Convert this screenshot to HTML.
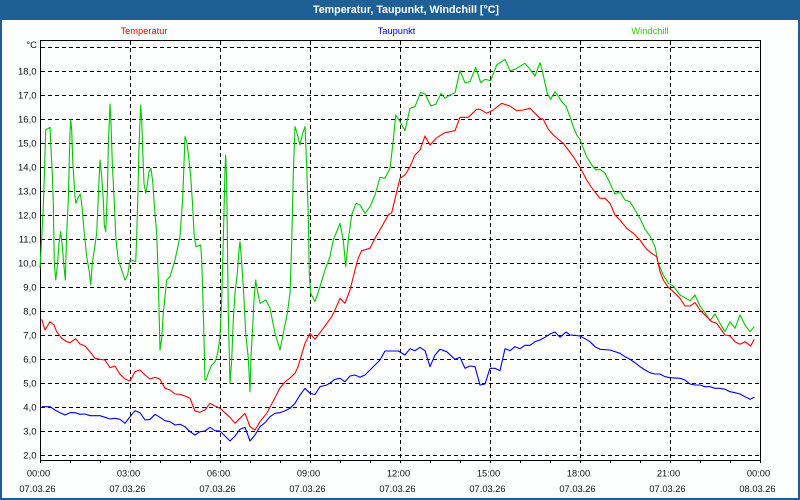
<!DOCTYPE html>
<html><head><meta charset="utf-8"><style>
html,body{margin:0;padding:0;background:#fff;}
svg{display:block;}
text{font-family:"Liberation Sans",Arial,sans-serif;}
</style></head><body>
<svg width="800" height="500" viewBox="0 0 800 500" xmlns="http://www.w3.org/2000/svg">
<rect x="0" y="0" width="800" height="500" fill="#1e5f96"/>
<rect x="2" y="20" width="796" height="478" fill="#fdfefe"/>
<text x="406" y="13" fill="#ffffff" font-size="10.6" font-weight="bold" text-anchor="middle" textLength="186" lengthAdjust="spacingAndGlyphs">Temperatur, Taupunkt, Windchill [°C]</text>
<text x="144" y="34" fill="#ff0000" font-size="9.3" text-anchor="middle">Temperatur</text>
<text x="396.5" y="34" fill="#0000ff" font-size="9.3" text-anchor="middle">Taupunkt</text>
<text x="650" y="34" fill="#33cc00" font-size="9.3" text-anchor="middle">Windchill</text>
<g stroke="#000" stroke-width="1" stroke-dasharray="4,3" shape-rendering="crispEdges">
<line x1="41" y1="47.5" x2="760" y2="47.5"/>
<line x1="41" y1="71.5" x2="760" y2="71.5"/>
<line x1="41" y1="95.5" x2="760" y2="95.5"/>
<line x1="41" y1="119.5" x2="760" y2="119.5"/>
<line x1="41" y1="143.5" x2="760" y2="143.5"/>
<line x1="41" y1="167.5" x2="760" y2="167.5"/>
<line x1="41" y1="191.5" x2="760" y2="191.5"/>
<line x1="41" y1="215.5" x2="760" y2="215.5"/>
<line x1="41" y1="239.5" x2="760" y2="239.5"/>
<line x1="41" y1="263.5" x2="760" y2="263.5"/>
<line x1="41" y1="287.5" x2="760" y2="287.5"/>
<line x1="41" y1="311.5" x2="760" y2="311.5"/>
<line x1="41" y1="335.5" x2="760" y2="335.5"/>
<line x1="41" y1="359.5" x2="760" y2="359.5"/>
<line x1="41" y1="383.5" x2="760" y2="383.5"/>
<line x1="41" y1="407.5" x2="760" y2="407.5"/>
<line x1="41" y1="431.5" x2="760" y2="431.5"/>
<line x1="41" y1="455.5" x2="760" y2="455.5"/>
<line x1="130.5" y1="41" x2="130.5" y2="460"/>
<line x1="220.5" y1="41" x2="220.5" y2="460"/>
<line x1="310.5" y1="41" x2="310.5" y2="460"/>
<line x1="400.5" y1="41" x2="400.5" y2="460"/>
<line x1="490.5" y1="41" x2="490.5" y2="460"/>
<line x1="580.5" y1="41" x2="580.5" y2="460"/>
<line x1="670.5" y1="41" x2="670.5" y2="460"/>
</g>
<g stroke="#000" stroke-width="1" fill="none" shape-rendering="crispEdges">
<path d="M40.5 40.5 H760.5 V460.5 H40.5 Z"/>
<path d="M40.5 460 v3 M70.5 460 v3 M100.5 460 v3 M130.5 460 v3 M160.5 460 v3 M190.5 460 v3 M220.5 460 v3 M250.5 460 v3 M280.5 460 v3 M310.5 460 v3 M340.5 460 v3 M370.5 460 v3 M400.5 460 v3 M430.5 460 v3 M460.5 460 v3 M490.5 460 v3 M520.5 460 v3 M550.5 460 v3 M580.5 460 v3 M610.5 460 v3 M640.5 460 v3 M670.5 460 v3 M700.5 460 v3 M730.5 460 v3 M760.5 460 v3"/>
</g>
<g fill="#111" font-size="9.5" text-anchor="end">
<text x="37" y="48">°C</text>
<text x="36.5" y="74.5">18,0</text>
<text x="36.5" y="98.5">17,0</text>
<text x="36.5" y="122.5">16,0</text>
<text x="36.5" y="146.5">15,0</text>
<text x="36.5" y="170.5">14,0</text>
<text x="36.5" y="194.5">13,0</text>
<text x="36.5" y="218.5">12,0</text>
<text x="36.5" y="242.5">11,0</text>
<text x="36.5" y="266.5">10,0</text>
<text x="36.5" y="290.5">9,0</text>
<text x="36.5" y="314.5">8,0</text>
<text x="36.5" y="338.5">7,0</text>
<text x="36.5" y="362.5">6,0</text>
<text x="36.5" y="386.5">5,0</text>
<text x="36.5" y="410.5">4,0</text>
<text x="36.5" y="434.5">3,0</text>
<text x="36.5" y="458.5">2,0</text>
</g>
<g fill="#111" font-size="9.3" text-anchor="middle">
<text x="38.5" y="476.5">00:00</text><text x="37.5" y="492">07.03.26</text>
<text x="128.5" y="476.5">03:00</text><text x="127.5" y="492">07.03.26</text>
<text x="218.5" y="476.5">06:00</text><text x="217.5" y="492">07.03.26</text>
<text x="308.5" y="476.5">09:00</text><text x="307.5" y="492">07.03.26</text>
<text x="398.5" y="476.5">12:00</text><text x="397.5" y="492">07.03.26</text>
<text x="488.5" y="476.5">15:00</text><text x="487.5" y="492">07.03.26</text>
<text x="578.5" y="476.5">18:00</text><text x="577.5" y="492">07.03.26</text>
<text x="668.5" y="476.5">21:00</text><text x="667.5" y="492">07.03.26</text>
<text x="758.5" y="476.5">00:00</text><text x="757.5" y="492">08.03.26</text>
</g>
<g fill="none" stroke-width="1.1" stroke-linejoin="round">
<polyline stroke="#00c800" points="40,268 41.7,238 43.3,206.7 44.3,176.7 45.7,130 50,127.3 50.7,143.3 52.3,173.3 53.3,203.3 54.3,263.3 55.7,280 57.3,266.7 59,243.3 60.7,231.7 62.3,246.7 64,266.7 65.3,280 66.7,233.3 68.3,200 70,133.3 70.7,119.3 71.7,130 72.7,160 75,196.7 76,203.3 77.7,198.3 80.3,194 81.7,203.3 84,230 86.7,256.7 89.3,271.7 90.7,285 92.3,263.3 94.3,250 96.7,233.3 98.3,196.7 100,160 101.7,176.7 103.3,200 104.3,225 105.7,231.7 107.3,193.3 108.3,146.7 110,104 111,123.3 112.3,163.3 114,196.7 116,240 118.3,260 121.7,270 125,280 127.7,275 130,260 131.7,260 135.7,261.7 136.7,236.7 138,190 139,146.7 140.7,105 141.7,120 142.7,150 144,183.3 145.7,193.3 147,186.7 149,171.7 151,168.3 152.7,181.7 154.3,205 156.7,233.3 158.3,280 160,350 161.7,338.3 163.3,313.3 166.7,280 170,276.7 175,260 180,236.7 182.7,198.3 185,136.7 186.7,141.7 188.3,153.3 190.7,176.7 192.7,206.7 194.3,236.7 196,246.7 200.7,245 201.7,260 203.3,311.7 205,380 206,380 208.3,373.3 211.7,365 215,362 217.7,353.3 220,336.7 221.7,300 223.3,240 225,170 225.7,155 226.7,183.3 228.3,313.3 230,383.3 231.7,360 233.3,320 235,293.3 237.3,273.3 239,250 240,241.7 241,253.3 243.3,286.7 245.7,333.3 248.3,358.3 250,391.7 251,356.7 252.7,326.7 254,300 255.7,280 256.7,286.7 260,303.3 266,300 270,308.3 275,333.3 280,350 283.3,333.3 287.3,313.3 290,293.3 291.7,243.3 293.3,173.3 295,126.7 296.7,131.7 300,145 302.7,133.3 305,126.7 306.7,166.7 308.3,216.7 309.3,273.3 310.7,293.3 315,301.7 320,286.7 325,270 330,256.7 333.3,240 340,223.3 343.3,240 345.7,266.7 348.3,240 351.7,215 356,203.3 360,205 365,213.3 370,206.7 375,195 380,177.3 385,178.3 390,168.3 393.3,140 395.7,115 400,121.7 405,130.7 410,108.3 415,106.7 420.7,92.3 425,94 431,106 436,104 441,93.3 445,98.3 450,95 455,92.7 460,70.7 465,82.7 470,81.7 475.7,67.3 480.7,82.7 485,79.3 490.7,80.7 496.7,65 505,59.3 510,70.7 515,69.3 525,63.3 530,69.3 535,76 540,62.7 541.7,68.3 545,83.3 547.3,93.3 550.7,99.3 555,91.7 558.3,96 561.7,101.7 566,106 570,116.7 573.3,126.7 576.7,135 580,139.3 583.3,148.3 586.7,156.7 591.7,165 596,170 600,169.3 605,173.3 610,183.3 615,194 620,191.7 625,200 630,201.7 635,210 640,218.3 645,229.3 650,236 655,246.7 658.3,263.3 663.3,275 668.3,283.3 673.3,286 680,295 690,300.7 695,295 700,306 705,312.7 710,320.7 715,314 720,323.3 725,331.7 730,321.7 735,328.3 740,315 745,325 750,331.7 754.3,326.7"/>
<polyline stroke="#ff0000" points="41.7,319.3 45,330 50,321.7 54,325 56.7,331.7 61.7,338.3 66.7,341.7 70,342.7 75.7,338.7 80,344 85,346 90,351.7 95,358.3 100,359.3 105,360 110,367.7 115,366 120,374.3 125,379 130,381 135,371.7 140,370 145,375 150,379 155,377.3 160,379.3 165,388.3 170,390 175,394 180,394.3 185,396 190,398.3 195,411 200,412.3 205,410 210,403.3 215,406 220,408.3 230,417.3 235,423.3 245,413.3 250,426.7 255,430 260,421.7 266.7,413.3 273.3,401 280,388 285,382 290,378 295,373.3 298,366.7 305,343.3 310,333.3 315,339.3 323.3,328.3 331.7,316.7 335,310 340,298.3 345,303.3 350,290 355,270 358.3,258 361.7,250.7 370,248.3 375,238.3 381.7,226.7 388.3,215 391.7,212.7 396.7,191.7 400,178.3 405,175 410,166.7 415,155 420,150 425,136 430,145 436.7,137.7 445,132.7 455,130.7 460,117.3 468.3,117.3 476.7,109.3 480,109.3 486.7,113.3 493.3,110 501.7,103.3 510,106 516.7,110.7 523.3,110 530,108.3 540,118.3 543.3,119.3 548.3,129.3 553.3,135 558.3,139.3 563.3,143.3 568.3,150 573.3,156.7 580,167.3 586.7,180 593.3,190 600,198.3 605,198.3 610,203.3 615,215 620,220 626.7,228.3 633.3,233.3 640,240 646.7,249.3 651.7,253.3 656.7,256.7 660,271.7 663.3,280 668.3,287.3 673.3,291.7 680,298.3 685,306 690,306 695,302.7 700,310 706.7,316.7 711.7,321.7 716.7,323.3 725,335 730,336 735,341.7 740,344.3 745,341.7 750.7,346 754.3,339.3"/>
<polyline stroke="#0000ff" points="41.7,406.7 50,406.7 55,410 60,412.7 65,415 70,412.7 75,412.7 80,414.3 85,414 90,415.7 100,415.7 105,417.3 110,419 115,418.3 120,419.3 125,423.3 130,416.7 135,410.7 140,412.7 145,420 150,419.3 155,414.3 160,417.3 165,420.7 170,421.7 175,425 180,424.3 185,426.7 190,431.7 195,435 200,431.7 205,431 210,427.3 215,430.7 220,431 230,441 235,436 240,429.3 245,427.3 250,441 255,435 260,426.7 265,422.7 270,416.7 275,413.3 280,412.7 285,410.7 290,408.3 295,403.3 300,395 305,388.3 310,393.3 315,394.5 320,386.7 326.7,385 330,383 335,379.3 340,378.3 345,381.7 350,376 355,375 360,377.3 365,375 370,370 375,365 380,360 385,351 398.3,351 405,355 410,348.7 415,350.7 420,347.3 425,350.7 430,366.7 435,355 440,349.3 446.7,351.7 455,359.3 460,357.3 465,368.3 470,366 475,366.7 480,385 485,384 490,368.3 495,368.3 500,370.7 505,348.7 510,350.7 515,346.7 520,348.7 525,345.3 530,345.3 535,341.7 540,340 545,337.3 550,334 555,332 560,337.3 566,332 570,335 575,335.3 580,336 585,338.7 590,341.7 595,346.7 600,349.3 610,350 620,353.3 625,356.7 630,359.3 635,362.7 640,366.7 645,370 650,372.7 655,374 660,374 665,376.7 670,377.7 680,378.3 685,380 690,384 695,385 700,385 705,386.7 710,386.7 715,388.3 720,388.3 725,389.3 730,391.7 735,392.7 740,394 745,396.7 750,399.3 754.3,397.3"/>
</g>
</svg>
</body></html>
